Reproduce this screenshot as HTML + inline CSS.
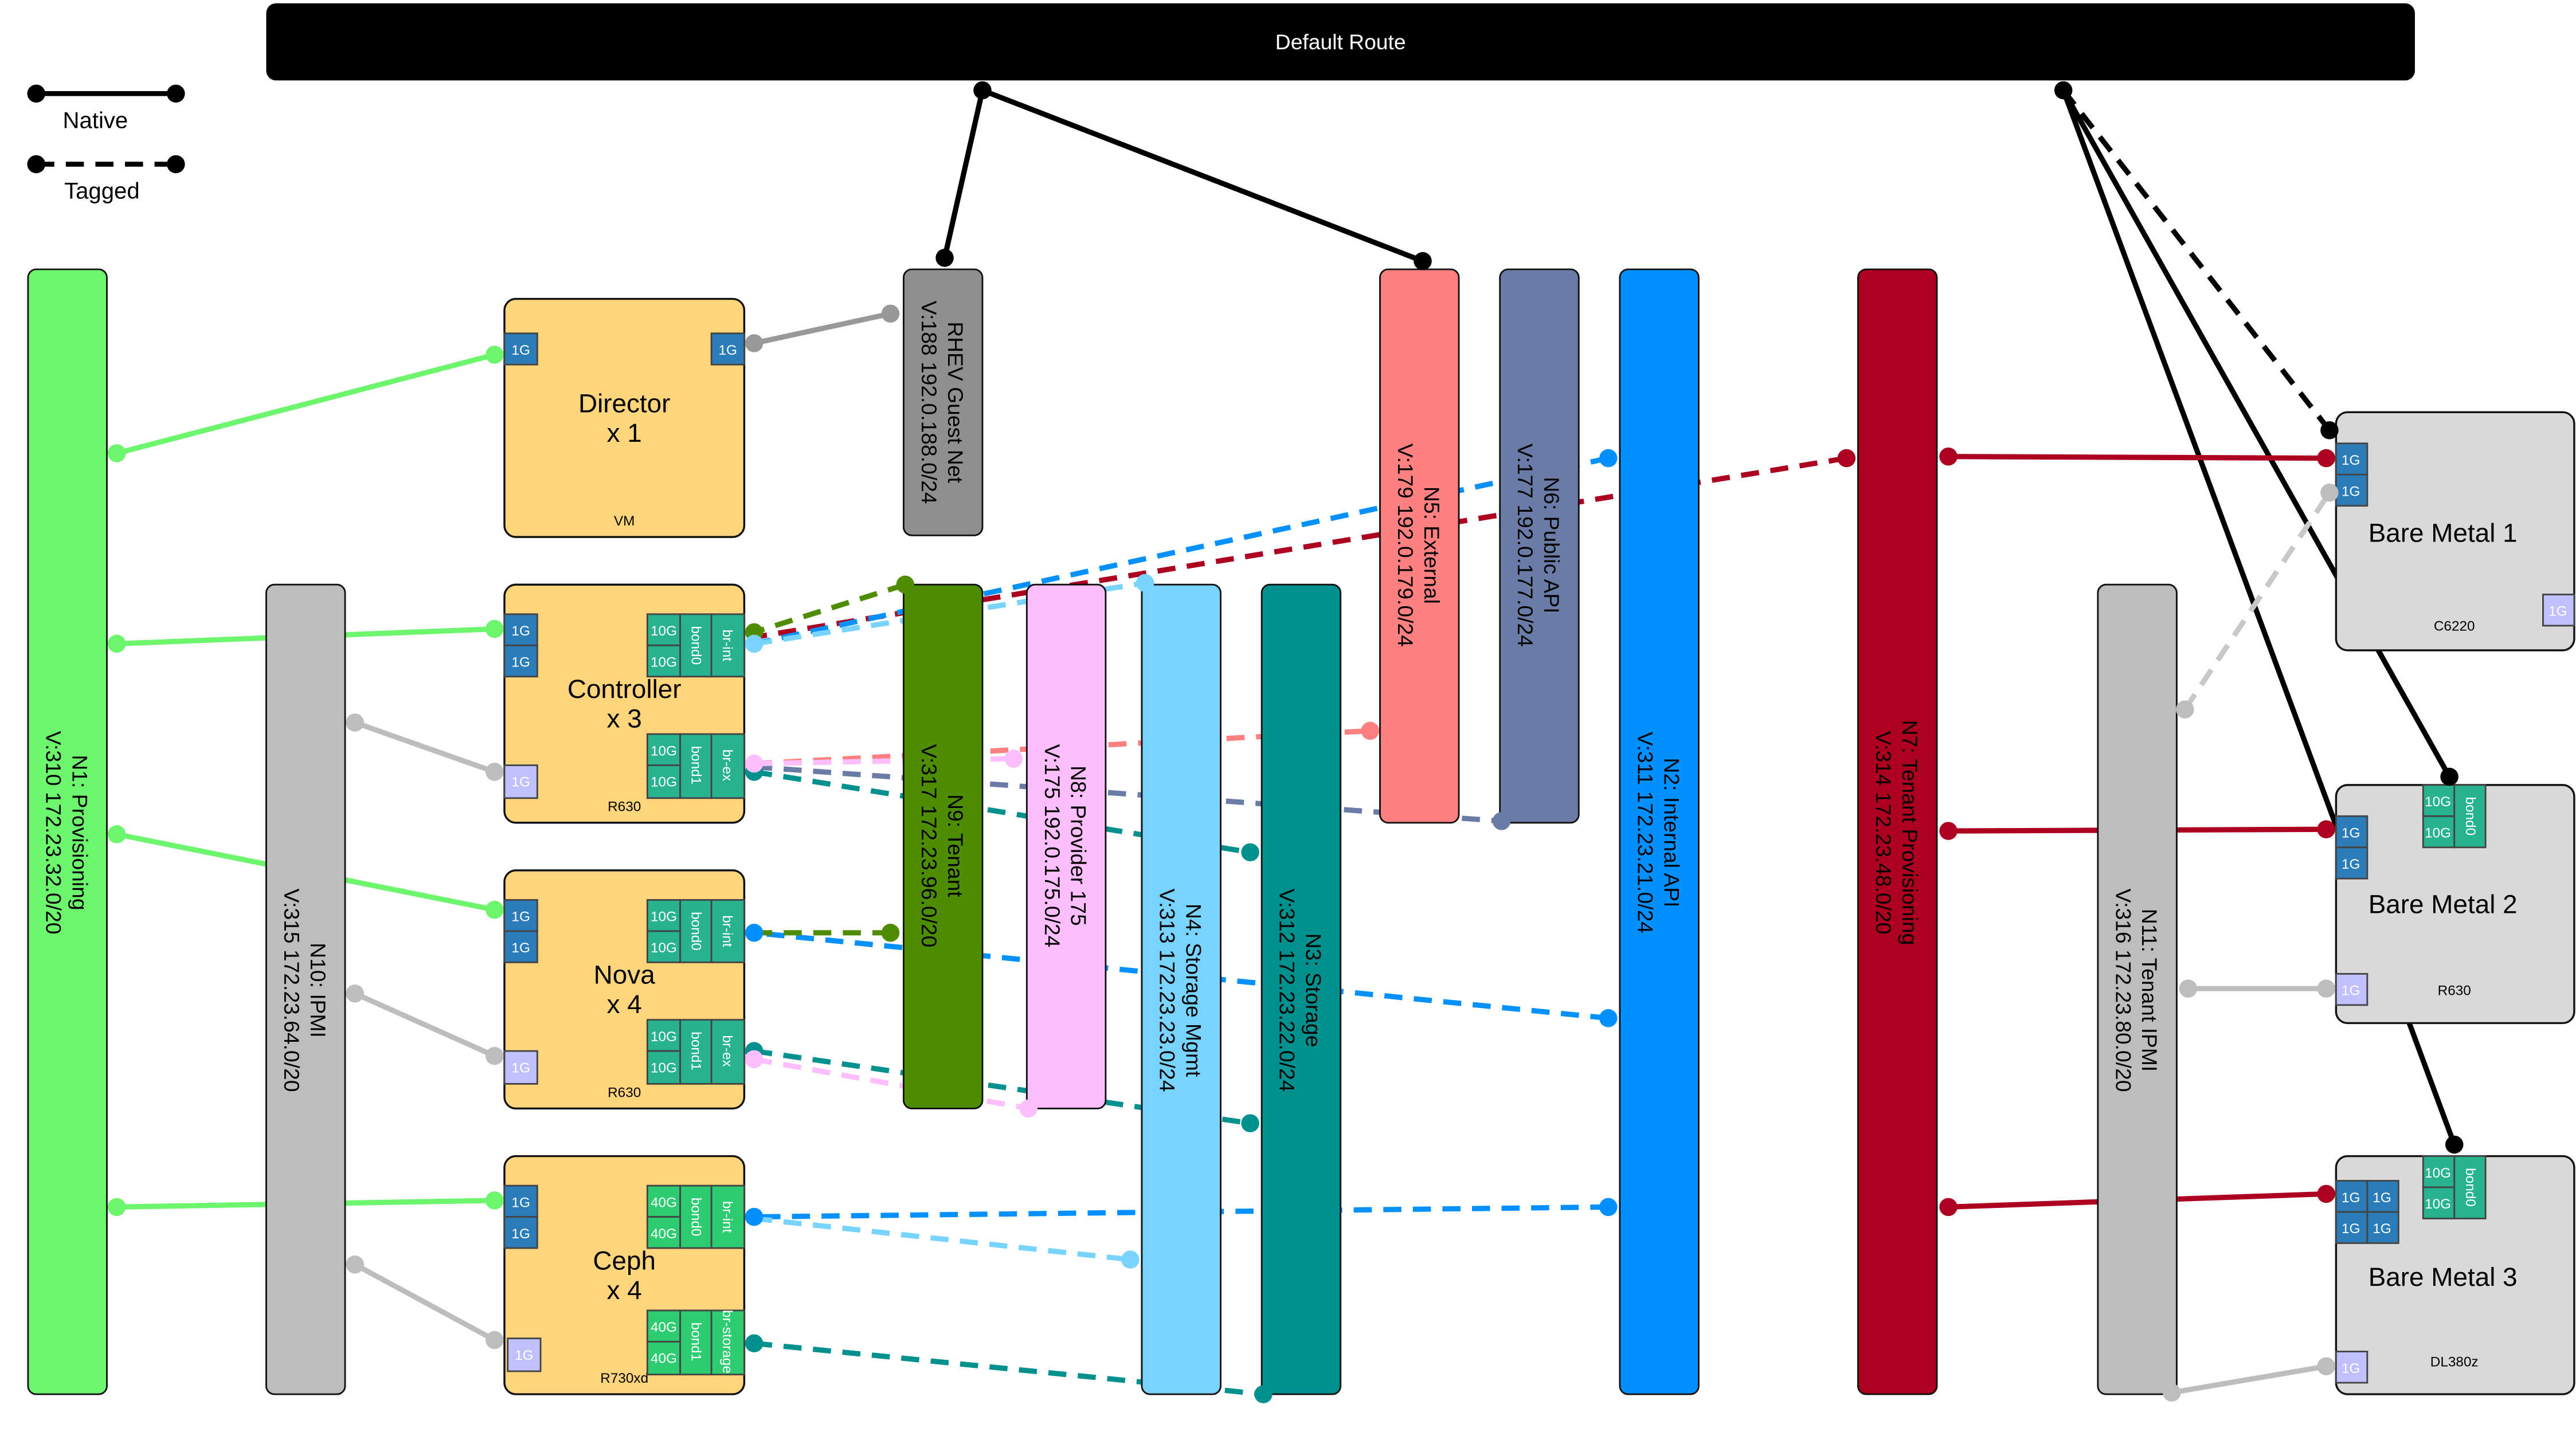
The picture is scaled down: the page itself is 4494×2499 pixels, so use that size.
<!DOCTYPE html>
<html><head><meta charset="utf-8"><style>
html,body{margin:0;padding:0;background:#fff;}
svg{display:block;}
text{font-family:"Liberation Sans",Arial,sans-serif;}
</style></head><body>
<svg width="4494" height="2499" viewBox="0 0 1568 872" xmlns="http://www.w3.org/2000/svg">
<defs>
<style>
.p{stroke:#444;stroke-width:1;}
.pt{fill:#fff;font-size:8.5px;text-anchor:middle;}
.mt{fill:#000;font-size:8.5px;text-anchor:middle;}
.d{stroke-width:3.2;stroke-dasharray:11,7;fill:none;}
.s{stroke-width:3.2;fill:none;}
</style>
</defs>
<rect x="0" y="0" width="1568" height="872" fill="#fff"/>

<rect x="162" y="2" width="1308" height="47" rx="6" fill="#000"/>
<text x="816" y="30" fill="#fff" font-size="13" text-anchor="middle">Default Route</text>

<line x1="22" y1="57" x2="107" y2="57" stroke="#000" stroke-width="3"/>
<circle cx="22" cy="57" r="5.5"/><circle cx="107" cy="57" r="5.5"/>
<text x="58" y="78" font-size="14" text-anchor="middle">Native</text>
<line x1="22" y1="100" x2="107" y2="100" stroke="#000" stroke-width="3" stroke-dasharray="11,7"/>
<circle cx="22" cy="100" r="5.5"/><circle cx="107" cy="100" r="5.5"/>
<text x="62" y="121" font-size="14" text-anchor="middle">Tagged</text>

<g>
<line x1="598" y1="55" x2="575" y2="157" stroke="#000" class="s"/>
<line x1="598" y1="55" x2="866" y2="159" stroke="#000" class="s"/>
<line x1="1256" y1="55" x2="1418" y2="262" stroke="#000" class="d"/>
<line x1="1256" y1="55" x2="1491" y2="473" stroke="#000" class="s"/>
<line x1="1256" y1="55" x2="1494" y2="697" stroke="#000" class="s"/>
<line x1="459" y1="209" x2="542" y2="191" stroke="#999" class="s"/>
<line x1="71" y1="276" x2="301" y2="216" stroke="#6ef56e" class="s"/>
<line x1="71" y1="392" x2="301" y2="383" stroke="#6ef56e" class="s"/>
<line x1="71" y1="508" x2="301" y2="554" stroke="#6ef56e" class="s"/>
<line x1="71" y1="735" x2="301" y2="731" stroke="#6ef56e" class="s"/>
<line x1="216" y1="440" x2="301" y2="470" stroke="#bdbdbd" class="s"/>
<line x1="216" y1="605" x2="301" y2="643" stroke="#bdbdbd" class="s"/>
<line x1="216" y1="770" x2="301" y2="816" stroke="#bdbdbd" class="s"/>
<line x1="1330" y1="432" x2="1418" y2="300" stroke="#c8c8c8" class="d"/>
<line x1="1332" y1="602" x2="1416" y2="602" stroke="#bdbdbd" class="s"/>
<line x1="1322" y1="848" x2="1416" y2="832" stroke="#bdbdbd" class="s"/>
<line x1="1186" y1="278" x2="1416" y2="279" stroke="#ad0021" class="s"/>
<line x1="1186" y1="506" x2="1416" y2="505" stroke="#ad0021" class="s"/>
<line x1="1186" y1="735" x2="1416" y2="727" stroke="#ad0021" class="s"/>
<line x1="1124" y1="279" x2="459" y2="388" stroke="#ad0021" class="d"/>
<line x1="979" y1="279" x2="459" y2="392" stroke="#0090ff" class="d"/>
<line x1="979" y1="620" x2="459" y2="568" stroke="#0090ff" class="d"/>
<line x1="979" y1="735" x2="459" y2="741" stroke="#0090ff" class="d"/>
<line x1="551" y1="356" x2="459" y2="385" stroke="#4e8c00" class="d"/>
<line x1="542" y1="568" x2="459" y2="568" stroke="#4e8c00" class="d"/>
<line x1="459" y1="392" x2="697" y2="355" stroke="#78d4ff" class="d"/>
<line x1="459" y1="742" x2="688" y2="767" stroke="#78d4ff" class="d"/>
<line x1="459" y1="465" x2="834" y2="445" stroke="#ff8080" class="d"/>
<line x1="459" y1="467" x2="914" y2="500" stroke="#6a7ba6" class="d"/>
<line x1="459" y1="470" x2="761" y2="519" stroke="#00918e" class="d"/>
<line x1="459" y1="640" x2="761" y2="684" stroke="#00918e" class="d"/>
<line x1="459" y1="818" x2="769" y2="849" stroke="#00918e" class="d"/>
<line x1="459" y1="465" x2="617" y2="462" stroke="#fdbefd" class="d"/>
<line x1="459" y1="645" x2="626" y2="675" stroke="#fdbefd" class="d"/>
</g>

<g stroke="#111" stroke-width="1">
<rect x="17" y="164" width="48" height="685" rx="5" fill="#6ef56e"/>
<rect x="162" y="356" width="48" height="493" rx="5" fill="#bdbdbd"/>
<rect x="550" y="164" width="48" height="162" rx="5" fill="#8f8f8f"/>
<rect x="550" y="356" width="48" height="319" rx="5" fill="#4e8c00"/>
<rect x="625" y="356" width="48" height="319" rx="5" fill="#fdbefd"/>
<rect x="695" y="356" width="48" height="493" rx="5" fill="#78d4ff"/>
<rect x="768" y="356" width="48" height="493" rx="5" fill="#00918e"/>
<rect x="840" y="164" width="48" height="337" rx="5" fill="#ff8080"/>
<rect x="913" y="164" width="48" height="337" rx="5" fill="#6a7ba6"/>
<rect x="986" y="164" width="48" height="685" rx="5" fill="#0090ff"/>
<rect x="1131" y="164" width="48" height="685" rx="5" fill="#ad0021"/>
<rect x="1277" y="356" width="48" height="493" rx="5" fill="#bdbdbd"/>
</g>
<g font-size="13" text-anchor="middle" fill="#000">
<text transform="translate(41,507) rotate(90)"><tspan x="0" dy="-3">N1: Provisioning</tspan><tspan x="0" dy="16">V:310 172.23.32.0/20</tspan></text>
<text transform="translate(186,603) rotate(90)"><tspan x="0" dy="-3">N10: IPMI</tspan><tspan x="0" dy="16">V:315 172.23.64.0/20</tspan></text>
<text transform="translate(574,245) rotate(90)"><tspan x="0" dy="-3">RHEV Guest Net</tspan><tspan x="0" dy="16">V:188 192.0.188.0/24</tspan></text>
<text transform="translate(574,515) rotate(90)"><tspan x="0" dy="-3">N9: Tenant</tspan><tspan x="0" dy="16">V:317 172.23.96.0/20</tspan></text>
<text transform="translate(649,515) rotate(90)"><tspan x="0" dy="-3">N8: Provider 175</tspan><tspan x="0" dy="16">V:175 192.0.175.0/24</tspan></text>
<text transform="translate(719,603) rotate(90)"><tspan x="0" dy="-3">N4: Storage Mgmt</tspan><tspan x="0" dy="16">V:313 172.23.23.0/24</tspan></text>
<text transform="translate(792,603) rotate(90)"><tspan x="0" dy="-3">N3: Storage</tspan><tspan x="0" dy="16">V:312 172.23.22.0/24</tspan></text>
<text transform="translate(864,332) rotate(90)"><tspan x="0" dy="-3">N5: External</tspan><tspan x="0" dy="16">V:179 192.0.179.0/24</tspan></text>
<text transform="translate(937,332) rotate(90)"><tspan x="0" dy="-3">N6: Public API</tspan><tspan x="0" dy="16">V:177 192.0.177.0/24</tspan></text>
<text transform="translate(1010,507) rotate(90)"><tspan x="0" dy="-3">N2: Internal  API</tspan><tspan x="0" dy="16">V:311 172.23.21.0/24</tspan></text>
<text transform="translate(1155,507) rotate(90)"><tspan x="0" dy="-3">N7: Tenant Provisioning</tspan><tspan x="0" dy="16">V:314 172.23.48.0/20</tspan></text>
<text transform="translate(1301,603) rotate(90)"><tspan x="0" dy="-3">N11: Tenant IPMI</tspan><tspan x="0" dy="16">V:316 172.23.80.0/20</tspan></text>
</g>

<g stroke="#111" stroke-width="1.2">
<rect x="307" y="182" width="146" height="145" rx="7" fill="#fed57b"/>
<rect x="307" y="356" width="146" height="145" rx="7" fill="#fed57b"/>
<rect x="307" y="530" width="146" height="145" rx="7" fill="#fed57b"/>
<rect x="307" y="704" width="146" height="145" rx="7" fill="#fed57b"/>
<rect x="1422" y="251" width="145" height="145" rx="7" fill="#d9d9d9"/>
<rect x="1422" y="478" width="145" height="145" rx="7" fill="#d9d9d9"/>
<rect x="1422" y="704" width="145" height="145" rx="7" fill="#d9d9d9"/>
</g>
<g font-size="16" text-anchor="middle" fill="#000">
<text x="380" y="251">Director</text><text x="380" y="269">x 1</text>
<text x="380" y="425">Controller</text><text x="380" y="443">x 3</text>
<text x="380" y="599">Nova</text><text x="380" y="617">x 4</text>
<text x="380" y="773">Ceph</text><text x="380" y="791">x 4</text>
<text x="1487" y="330">Bare Metal 1</text>
<text x="1487" y="556">Bare Metal 2</text>
<text x="1487" y="783">Bare Metal 3</text>
</g>
<g>
<text class="mt" x="380" y="320">VM</text>
<text class="mt" x="380" y="494">R630</text>
<text class="mt" x="380" y="668">R630</text>
<text class="mt" x="380" y="842">R730xd</text>
<text class="mt" x="1494" y="384">C6220</text>
<text class="mt" x="1494" y="606">R630</text>
<text class="mt" x="1494" y="832">DL380z</text>
</g>

<g class="p">
<rect x="307" y="203" width="20" height="19" fill="#2a7db8"/>
<rect x="433" y="203" width="20" height="19" fill="#2a7db8"/>
<rect x="307" y="374" width="20" height="19" fill="#2a7db8"/><rect x="307" y="393" width="20" height="19" fill="#2a7db8"/>
<rect x="307" y="466" width="20" height="20" fill="#c0c0ff"/>
<rect x="394" y="374" width="20" height="19" fill="#27b290"/><rect x="394" y="393" width="20" height="19" fill="#27b290"/>
<rect x="414" y="374" width="19" height="38" fill="#27b290"/><rect x="433" y="374" width="20" height="38" fill="#27b290"/>
<rect x="394" y="447" width="20" height="19" fill="#27b290"/><rect x="394" y="466" width="20" height="20" fill="#27b290"/>
<rect x="414" y="447" width="19" height="39" fill="#27b290"/><rect x="433" y="447" width="20" height="39" fill="#27b290"/>
<rect x="307" y="548" width="20" height="19" fill="#2a7db8"/><rect x="307" y="567" width="20" height="19" fill="#2a7db8"/>
<rect x="307" y="640" width="20" height="20" fill="#c0c0ff"/>
<rect x="394" y="548" width="20" height="19" fill="#27b290"/><rect x="394" y="567" width="20" height="19" fill="#27b290"/>
<rect x="414" y="548" width="19" height="38" fill="#27b290"/><rect x="433" y="548" width="20" height="38" fill="#27b290"/>
<rect x="394" y="621" width="20" height="19" fill="#27b290"/><rect x="394" y="640" width="20" height="20" fill="#27b290"/>
<rect x="414" y="621" width="19" height="39" fill="#27b290"/><rect x="433" y="621" width="20" height="39" fill="#27b290"/>
<rect x="307" y="722" width="20" height="19" fill="#2a7db8"/><rect x="307" y="741" width="20" height="19" fill="#2a7db8"/>
<rect x="309" y="815" width="20" height="20" fill="#c0c0ff"/>
<rect x="394" y="722" width="20" height="19" fill="#2ecc71"/><rect x="394" y="741" width="20" height="19" fill="#2ecc71"/>
<rect x="414" y="722" width="19" height="38" fill="#2ecc71"/><rect x="433" y="722" width="20" height="38" fill="#2ecc71"/>
<rect x="394" y="798" width="20" height="19" fill="#2ecc71"/><rect x="394" y="817" width="20" height="20" fill="#2ecc71"/>
<rect x="414" y="798" width="19" height="39" fill="#2ecc71"/><rect x="433" y="798" width="20" height="39" fill="#2ecc71"/>
<rect x="1422" y="270" width="19" height="19" fill="#2a7db8"/><rect x="1422" y="289" width="19" height="19" fill="#2a7db8"/>
<rect x="1548" y="362" width="19" height="19" fill="#c0c0ff"/>
<rect x="1422" y="497" width="19" height="19" fill="#2a7db8"/><rect x="1422" y="516" width="19" height="19" fill="#2a7db8"/>
<rect x="1422" y="593" width="19" height="19" fill="#c0c0ff"/>
<rect x="1475" y="478" width="19" height="19" fill="#27b290"/><rect x="1475" y="497" width="19" height="19" fill="#27b290"/>
<rect x="1494" y="478" width="19" height="38" fill="#27b290"/>
<rect x="1422" y="719" width="19" height="19" fill="#2a7db8"/><rect x="1441" y="719" width="19" height="19" fill="#2a7db8"/>
<rect x="1422" y="738" width="19" height="19" fill="#2a7db8"/><rect x="1441" y="738" width="19" height="19" fill="#2a7db8"/>
<rect x="1422" y="823" width="19" height="19" fill="#c0c0ff"/>
<rect x="1475" y="704" width="19" height="19" fill="#27b290"/><rect x="1475" y="723" width="19" height="19" fill="#27b290"/>
<rect x="1494" y="704" width="19" height="38" fill="#27b290"/>
</g>
<g>
<text class="pt" x="317" y="216">1G</text><text class="pt" x="443" y="216">1G</text>
<text class="pt" x="317" y="387">1G</text><text class="pt" x="317" y="406">1G</text><text class="pt" x="317" y="479">1G</text>
<text class="pt" x="404" y="387">10G</text><text class="pt" x="404" y="406">10G</text>
<text class="pt" x="404" y="460">10G</text><text class="pt" x="404" y="479">10G</text>
<text class="pt" x="317" y="561">1G</text><text class="pt" x="317" y="580">1G</text><text class="pt" x="317" y="653">1G</text>
<text class="pt" x="404" y="561">10G</text><text class="pt" x="404" y="580">10G</text>
<text class="pt" x="404" y="634">10G</text><text class="pt" x="404" y="653">10G</text>
<text class="pt" x="317" y="735">1G</text><text class="pt" x="317" y="754">1G</text><text class="pt" x="319" y="828">1G</text>
<text class="pt" x="404" y="735">40G</text><text class="pt" x="404" y="754">40G</text>
<text class="pt" x="404" y="811">40G</text><text class="pt" x="404" y="830">40G</text>
<text class="pt" x="1431" y="283">1G</text><text class="pt" x="1431" y="302">1G</text><text class="pt" x="1557" y="375">1G</text>
<text class="pt" x="1431" y="510">1G</text><text class="pt" x="1431" y="529">1G</text><text class="pt" x="1431" y="606">1G</text>
<text class="pt" x="1484" y="491">10G</text><text class="pt" x="1484" y="510">10G</text>
<text class="pt" x="1431" y="732">1G</text><text class="pt" x="1450" y="732">1G</text>
<text class="pt" x="1431" y="751">1G</text><text class="pt" x="1450" y="751">1G</text>
<text class="pt" x="1431" y="836">1G</text>
<text class="pt" x="1484" y="717">10G</text><text class="pt" x="1484" y="736">10G</text>
<text class="pt" transform="translate(421,393) rotate(90)" dy="0">bond0</text>
<text class="pt" transform="translate(440,393) rotate(90)">br-int</text>
<text class="pt" transform="translate(421,466) rotate(90)">bond1</text>
<text class="pt" transform="translate(440,466) rotate(90)">br-ex</text>
<text class="pt" transform="translate(421,567) rotate(90)">bond0</text>
<text class="pt" transform="translate(440,567) rotate(90)">br-int</text>
<text class="pt" transform="translate(421,640) rotate(90)">bond1</text>
<text class="pt" transform="translate(440,640) rotate(90)">br-ex</text>
<text class="pt" transform="translate(421,741) rotate(90)">bond0</text>
<text class="pt" transform="translate(440,741) rotate(90)">br-int</text>
<text class="pt" transform="translate(421,817) rotate(90)">bond1</text>
<text class="pt" transform="translate(440,817) rotate(90)" font-size="8">br-storage</text>
<text class="pt" transform="translate(1501,497) rotate(90)">bond0</text>
<text class="pt" transform="translate(1501,723) rotate(90)">bond0</text>
</g>

<g>
<circle cx="598" cy="55" r="5.5"/><circle cx="575" cy="157" r="5.5"/><circle cx="866" cy="159" r="5.5"/>
<circle cx="1256" cy="55" r="5.5"/><circle cx="1418" cy="262" r="5.5"/><circle cx="1491" cy="473" r="5.5"/><circle cx="1494" cy="697" r="5.5"/>
<g fill="#999"><circle cx="459" cy="209" r="5.5"/><circle cx="542" cy="191" r="5.5"/></g>
<g fill="#6ef56e"><circle cx="71" cy="276" r="5.5"/><circle cx="301" cy="216" r="5.5"/><circle cx="71" cy="392" r="5.5"/><circle cx="301" cy="383" r="5.5"/><circle cx="71" cy="508" r="5.5"/><circle cx="301" cy="554" r="5.5"/><circle cx="71" cy="735" r="5.5"/><circle cx="301" cy="731" r="5.5"/></g>
<g fill="#bdbdbd"><circle cx="216" cy="440" r="5.5"/><circle cx="301" cy="470" r="5.5"/><circle cx="216" cy="605" r="5.5"/><circle cx="301" cy="643" r="5.5"/><circle cx="216" cy="770" r="5.5"/><circle cx="301" cy="816" r="5.5"/><circle cx="1330" cy="432" r="5.5"/><circle cx="1418" cy="300" r="5.5"/><circle cx="1332" cy="602" r="5.5"/><circle cx="1416" cy="602" r="5.5"/><circle cx="1322" cy="848" r="5.5"/><circle cx="1416" cy="832" r="5.5"/></g>
<g fill="#ad0021"><circle cx="1186" cy="278" r="5.5"/><circle cx="1416" cy="279" r="5.5"/><circle cx="1186" cy="506" r="5.5"/><circle cx="1416" cy="505" r="5.5"/><circle cx="1186" cy="735" r="5.5"/><circle cx="1416" cy="727" r="5.5"/><circle cx="1124" cy="279" r="5.5"/></g>
<g fill="#0090ff"><circle cx="979" cy="279" r="5.5"/><circle cx="979" cy="620" r="5.5"/><circle cx="979" cy="735" r="5.5"/><circle cx="459" cy="568" r="5.5"/><circle cx="459" cy="741" r="5.5"/></g>
<g fill="#4e8c00"><circle cx="551" cy="356" r="5.5"/><circle cx="542" cy="568" r="5.5"/><circle cx="459" cy="385" r="5.5"/></g>
<g fill="#78d4ff"><circle cx="697" cy="355" r="5.5"/><circle cx="688" cy="767" r="5.5"/><circle cx="459" cy="392" r="5.5"/></g>
<g fill="#ff8080"><circle cx="834" cy="445" r="5.5"/></g>
<g fill="#6a7ba6"><circle cx="914" cy="500" r="5.5"/></g>
<g fill="#00918e"><circle cx="761" cy="519" r="5.5"/><circle cx="761" cy="684" r="5.5"/><circle cx="769" cy="849" r="5.5"/><circle cx="459" cy="470" r="5.5"/><circle cx="459" cy="640" r="5.5"/><circle cx="459" cy="818" r="5.5"/></g>
<g fill="#fdbefd"><circle cx="617" cy="462" r="5.5"/><circle cx="626" cy="675" r="5.5"/><circle cx="459" cy="465" r="5.5"/><circle cx="459" cy="645" r="5.5"/></g>
</g>
</svg>
</body></html>
